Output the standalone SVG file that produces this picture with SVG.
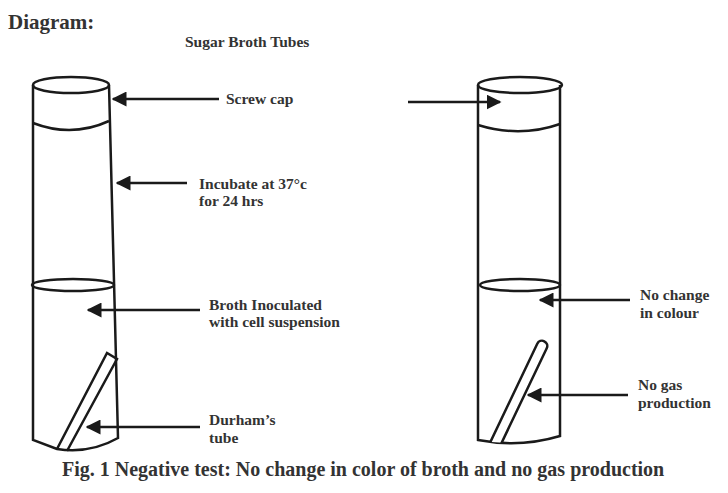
<svg xmlns="http://www.w3.org/2000/svg" width="728" height="493" viewBox="0 0 728 493">
<style>
.s{fill:none;stroke:#1a1a1a;stroke-width:2.5}
.t{font-family:"Liberation Serif",serif;font-weight:bold;fill:#333;font-size:15.5px}
.a{stroke:#1a1a1a;stroke-width:2.5;fill:none;marker-end:url(#ah)}
</style>
<defs>
<marker id="ah" viewBox="0 0 10 10" refX="9" refY="5" markerWidth="6" markerHeight="6" orient="auto" markerUnits="strokeWidth"><path d="M0,0L10,5L0,10z" fill="#1a1a1a"/></marker>
<clipPath id="rc"><path d="M478,80 L560,80 L560,436 Q520,448 478,440z"/></clipPath>
</defs>
<rect width="728" height="493" fill="#fff"/>
<text x="8" y="29" class="t" style="font-size:21px">Diagram:</text>
<text x="185" y="47" class="t" style="font-size:15.5px">Sugar Broth Tubes</text>
<g id="tube-left">
<ellipse cx="71" cy="85" rx="38" ry="8" class="s"/>
<path d="M33,85 L33,440 L57,449 Q90,454 118,438 L109,85" class="s"/>
<path d="M33,123 Q72,138 109,121" class="s"/>
<ellipse cx="73" cy="285" rx="41" ry="6" class="s"/>
<path d="M57,449 L107,353 L117,359 L67,451" class="s"/>
</g>
<g id="tube-right">
<ellipse cx="520" cy="85" rx="42" ry="8" class="s"/>
<path d="M478,85 L478,440 Q520,448 560,436 L560,85" class="s"/>
<path d="M478,125 Q520,138 560,124" class="s"/>
<ellipse cx="520" cy="285" rx="40" ry="6" class="s"/>
<g clip-path="url(#rc)">
<line x1="490" y1="455" x2="542" y2="346" stroke="#1a1a1a" stroke-width="13" stroke-linecap="round"/>
<line x1="490" y1="455" x2="542" y2="346" stroke="#fff" stroke-width="8" stroke-linecap="round"/>
</g>
</g>
<g id="connectors">
<line x1="219" y1="99" x2="113" y2="99" class="a"/>
<line x1="187" y1="183" x2="117" y2="183" class="a"/>
<line x1="200" y1="310" x2="88" y2="310" class="a"/>
<line x1="200" y1="427" x2="87" y2="427" class="a"/>
<line x1="408" y1="102" x2="500" y2="102" class="a"/>
<line x1="630" y1="300" x2="540" y2="300" class="a"/>
<line x1="628" y1="395" x2="528" y2="395" class="a"/>
</g>
<g id="labels">
<text x="226" y="104" class="t">Screw cap</text>
<text x="199" y="189" class="t">Incubate at 37°c</text>
<text x="199" y="206" class="t">for 24 hrs</text>
<text x="209" y="310" class="t">Broth Inoculated</text>
<text x="209" y="327" class="t">with cell suspension</text>
<text x="209" y="425" class="t">Durham’s</text>
<text x="209" y="443" class="t">tube</text>
<text x="640" y="300" class="t">No change</text>
<text x="640" y="318" class="t">in colour</text>
<text x="638" y="390" class="t">No gas</text>
<text x="638" y="408" class="t">production</text>
</g>
<text x="62" y="476" class="t" style="font-size:20px">Fig. 1 Negative test: No change in color of broth and no gas production</text>
</svg>
